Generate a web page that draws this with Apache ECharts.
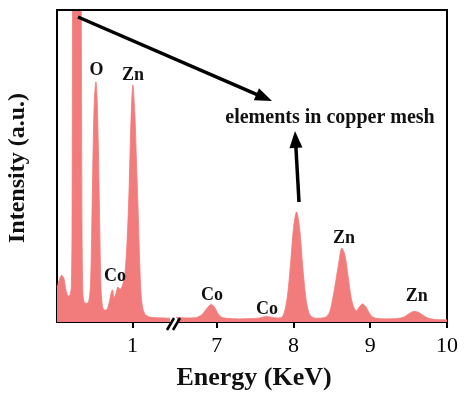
<!DOCTYPE html>
<html>
<head>
<meta charset="utf-8">
<style>
  html, body { margin: 0; padding: 0; background: #ffffff; }
  #chart { width: 464px; height: 396px; }
</style>
<script src="https://cdn.jsdelivr.net/npm/echarts@6/dist/echarts.min.js"></script>
</head>
<body>
<div id="chart"></div>
<script>
// EDS spectrum, low-energy window (keV) and its counts (a.u.)
const lowEnergy = [0.02, 0.05, 0.08, 0.11, 0.13, 0.15, 0.17, 0.19, 0.205, 0.215, 0.222, 0.24, 0.27, 0.30, 0.325, 0.335, 0.345, 0.355, 0.37, 0.40, 0.43, 0.455, 0.475, 0.49, 0.505, 0.525, 0.54, 0.555, 0.57, 0.59, 0.61, 0.64, 0.67, 0.70, 0.725, 0.74, 0.76, 0.79, 0.81, 0.84, 0.87, 0.90, 0.93, 0.955, 0.98, 1.005, 1.03, 1.05, 1.07, 1.09, 1.105, 1.125, 1.16, 1.22, 1.30, 1.40, 1.50];
const lowCounts = [11.2, 13.5, 15, 14, 11, 9, 8.3, 8.8, 11, 30, 105, 250, 400, 250, 140, 100, 30, 10, 6.5, 6, 6.3, 12, 36, 57, 71, 77, 72, 58, 38, 12, 5, 3.8, 4, 6.5, 9.5, 10.3, 7.8, 9.5, 11.2, 10.5, 11.8, 15, 26, 42, 64, 76, 67, 53, 38, 22, 12, 5.5, 2.6, 1.6, 1.4, 1.3, 1.2];

// High-energy window (keV) and its counts (a.u.)
const highEnergy = [6.47, 6.6, 6.72, 6.8, 6.85, 6.9, 6.93, 6.97, 7.01, 7.06, 7.12, 7.3, 7.45, 7.56, 7.64, 7.7, 7.78, 7.84, 7.88, 7.92, 7.96, 8.0, 8.04, 8.08, 8.12, 8.16, 8.2, 8.24, 8.3, 8.4, 8.46, 8.5, 8.55, 8.59, 8.63, 8.67, 8.71, 8.75, 8.79, 8.82, 8.86, 8.9, 8.94, 8.98, 9.03, 9.1, 9.2, 9.35, 9.44, 9.5, 9.57, 9.63, 9.69, 9.76, 9.85, 10.0];
const highCounts = [1.5, 1.3, 1.4, 2.2, 3.6, 5.2, 5.6, 4.8, 3.0, 1.6, 1.2, 1.0, 1.1, 1.3, 1.8, 1.6, 1.3, 1.4, 3.0, 8.0, 18, 30, 35.3, 30, 18, 8, 3, 1.6, 1.2, 1.4, 2.6, 6, 13, 19, 23.7, 21.5, 15, 8, 4.4, 3.6, 4.9, 5.8, 5.0, 3.2, 1.6, 1.1, 1.0, 1.1, 1.6, 2.6, 3.4, 3.1, 2.1, 1.2, 0.8, 0.7];

// Tick labels on the broken energy axis
const lowTicks = [1];
const highTicks = [7, 8, 9, 10];

// Element tags: name, energy (keV), height of the tag (a.u.)
const lowTagNames = ['O', 'Zn', 'Co'];
const lowTagEnergy = [0.533, 1.007, 0.773];
const lowTagLevel = [80.6, 79.2, 14.7];
const highTagNames = ['Co', 'Co', 'Zn', 'Zn'];
const highTagEnergy = [6.939, 7.655, 8.657, 9.607];
const highTagLevel = [8.5, 4.0, 26.8, 8.2];

const FILL = '#F27B7B';
const SERIF = '"Liberation Serif", "Times New Roman", serif';

const pair = (xs, ys) => xs.map((x, i) => [x, ys[i]]);
const tags = (names, xs, ys) => names.map((n, i) => ({ name: n, coord: [xs[i], ys[i]] }));

function xAxisFor(gridIndex, min, max, ticks) {
  return {
    type: 'value', gridIndex, min, max,
    axisLine: { show: true, onZero: false, lineStyle: { color: '#000', width: 2 } },
    axisTick: { show: true, customValues: ticks, length: 6, inside: false, lineStyle: { color: '#000', width: 2 } },
    axisLabel: { show: true, customValues: ticks, margin: 13, color: '#000', fontSize: 22, fontFamily: SERIF },
    splitLine: { show: false }
  };
}
function yAxisFor(gridIndex, position) {
  return {
    type: 'value', gridIndex, min: 0, max: 100, position,
    axisLine: { show: true, lineStyle: { color: '#000', width: 2 } },
    axisTick: { show: false }, axisLabel: { show: false }, splitLine: { show: false }
  };
}
function spectrum(xi, data, tagData) {
  return {
    type: 'line', xAxisIndex: xi, yAxisIndex: xi, data,
    showSymbol: false, smooth: 0.3, clip: true,
    lineStyle: { width: 0.8, color: FILL },
    areaStyle: { color: FILL, opacity: 1 },
    silent: true, animation: false,
    markPoint: {
      symbol: 'circle', symbolSize: 0, silent: true, animation: false,
      label: { show: true, position: 'inside', formatter: '{b}', color: '#111', fontSize: 18, fontWeight: 'bold', fontFamily: SERIF },
      data: tagData
    }
  };
}

// Arrow drawn as a shaft plus a filled head
function arrow(x1, y1, x2, y2) {
  const dx = x2 - x1, dy = y2 - y1, L = Math.hypot(dx, dy);
  const ux = dx / L, uy = dy / L, head = 17, half = 6.5;
  const bx = x2 - ux * head, by = y2 - uy * head;
  return [
    { type: 'line', shape: { x1, y1, x2: bx + ux * 2, y2: by + uy * 2 }, style: { stroke: '#000', lineWidth: 3.5 }, z: 50 },
    { type: 'polygon', shape: { points: [[x2, y2], [bx - uy * half, by + ux * half], [bx + uy * half, by - ux * half]] }, style: { fill: '#000' }, z: 50 }
  ];
}

const chart = echarts.init(document.getElementById('chart'), null, { renderer: 'canvas' });
chart.setOption({
  backgroundColor: '#ffffff',
  animation: false,
  grid: [
    { left: 57, top: 10, width: 114, height: 312 },
    { left: 176, top: 10, width: 271, height: 312 }
  ],
  xAxis: [xAxisFor(0, 0.02, 1.5, lowTicks), xAxisFor(1, 6.47, 10, highTicks)],
  yAxis: [yAxisFor(0, 'left'), yAxisFor(1, 'right')],
  series: [
    spectrum(0, pair(lowEnergy, lowCounts), tags(lowTagNames, lowTagEnergy, lowTagLevel)),
    spectrum(1, pair(highEnergy, highCounts), tags(highTagNames, highTagEnergy, highTagLevel))
  ],
  graphic: [
    // top edge of the frame
    { type: 'line', shape: { x1: 56, y1: 10, x2: 448, y2: 10 }, style: { stroke: '#000', lineWidth: 2 }, z: 40 },
    // axis break marks
    { type: 'rect', shape: { x: 170, y: 318, width: 7, height: 10 }, style: { fill: '#fff' }, z: 40 },
    { type: 'line', shape: { x1: 167, y1: 330, x2: 174, y2: 318 }, style: { stroke: '#000', lineWidth: 2.5 }, z: 41 },
    { type: 'line', shape: { x1: 173, y1: 330, x2: 180, y2: 318 }, style: { stroke: '#000', lineWidth: 2.5 }, z: 41 },
    ...arrow(78, 17, 272, 101),
    ...arrow(299, 202, 295, 131),
    { type: 'text', x: 330, y: 118, z: 50,
      style: { text: 'elements in copper mesh', fill: '#111', font: 'bold 20px ' + SERIF, align: 'center', verticalAlign: 'middle' } },
    { type: 'text', x: 254, y: 378, z: 50,
      style: { text: 'Energy (KeV)', fill: '#111', font: 'bold 26px ' + SERIF, align: 'center', verticalAlign: 'middle' } },
    { type: 'text', x: 18, y: 168, rotation: Math.PI / 2, z: 50,
      style: { text: 'Intensity (a.u.)', fill: '#111', font: 'bold 24px ' + SERIF, align: 'center', verticalAlign: 'middle' } }
  ]
});
</script>
</body>
</html>
